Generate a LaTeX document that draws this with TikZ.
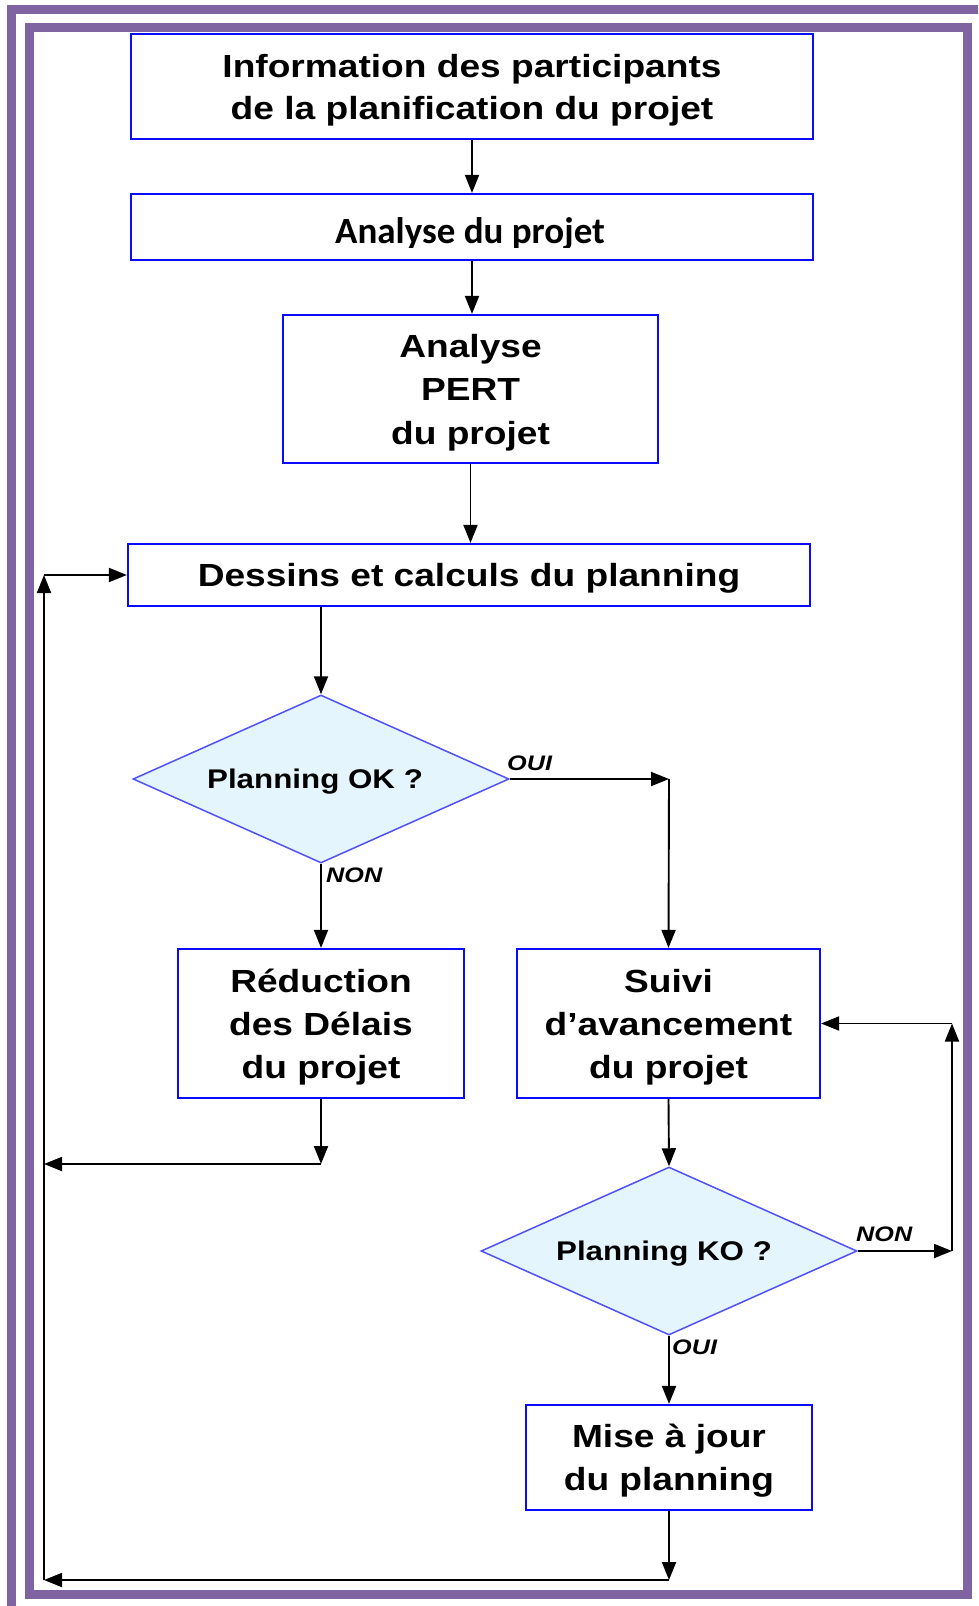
\documentclass[tikz,border=0pt]{standalone}
\usepackage{fontspec}
\usetikzlibrary{arrows.meta,shapes.geometric}
\newfontfamily\boxfont[FakeStretch=1.16]{Liberation Sans}
\newfontfamily\lblfont[FakeStretch=1.2]{Liberation Sans}
\newfontfamily\calfont{Carlito}
\definecolor{framepurple}{RGB}{128,100,162}
\definecolor{boxblue}{RGB}{10,10,255}
\definecolor{diablue}{RGB}{80,80,255}
\definecolor{diafill}{RGB}{229,245,253}

\begin{document}
\begin{tikzpicture}[x=1pt,y=-1pt,
  stepbox/.style={rectangle, draw=boxblue, line width=2.2pt, fill=white,
    inner sep=0pt, align=center, text depth=0pt},
  bigtext/.style={font=\boxfont\bfseries\fontsize{32}{43}\selectfont},
  decision/.style={diamond, draw=diablue, fill=diafill, line width=1.5pt,
    inner sep=0pt, aspect=2.24, minimum width=376pt, minimum height=168pt,
    text depth=0pt, font=\boxfont\bfseries\fontsize{27}{27}\selectfont},
  answer/.style={anchor=west, inner sep=0pt,
    font=\lblfont\bfseries\itshape\fontsize{21}{21}\selectfont},
  flow/.style={draw=black, line width=1.9pt, -{Triangle[length=18pt,width=14pt]}},
  frameline/.style={draw=framepurple, line width=9pt}
]
\path[use as bounding box] (0,0) rectangle (978,1606);
\clip (0,0) rectangle (978,1606);
\fill[white] (0,0) rectangle (978,1606);

% double purple frame
\draw[frameline] (11.5,1640) -- (11.5,9.5) -- (1000,9.5);
\draw[frameline] (29.5,27.5) rectangle (967.5,1594);

% process boxes
\node[stepbox, minimum width=682pt, minimum height=105pt,
  font=\boxfont\bfseries\fontsize{32}{42}\selectfont]
  (info) at (472,86.5) {Information des participants\\de la planification du projet};
\node[stepbox, minimum width=682pt, minimum height=66pt] (analyse) at (472,227) {};
\begin{scope}
  \clip (131,195) rectangle (813,247.5);
  \node[anchor=base, inner sep=0pt, font=\calfont\bfseries\fontsize{37}{37}\selectfont]
    (analysetext) at (470,243) {Analyse du projet};
\end{scope}
\node[stepbox, minimum width=375pt, minimum height=148pt,
  font=\boxfont\bfseries\fontsize{32}{43.5}\selectfont]
  (pert) at (470.5,389) {Analyse\\PERT\\du projet};
\node[stepbox, bigtext, minimum width=682pt, minimum height=62pt]
  (dessins) at (469,575) {Dessins et calculs du planning};
\node[decision] (ok) at (321,779) {Planning OK ?\hspace*{12pt}};
\node[stepbox, bigtext, minimum width=286pt, minimum height=149pt]
  (reduction) at (321,1023.5) {Réduction\\des Délais\\du projet};
\node[stepbox, bigtext, minimum width=303pt, minimum height=149pt]
  (suivi) at (668.5,1023.5) {Suivi\\d’avancement\\du projet};
\node[decision] (ko) at (669,1251) {Planning KO ?\hspace*{10pt}};
\node[stepbox, bigtext, minimum width=286pt, minimum height=105pt]
  (miseajour) at (669,1457.5) {Mise à jour\\du planning};

% branch labels
\node[answer] (okoui) at (507,763) {OUI};
\node[answer] (oknon) at (326,875) {NON};
\node[answer] (konon) at (856,1234) {NON};
\node[answer] (kooui) at (672,1347) {OUI};

% bends of the connectors
\coordinate (ouibend) at (669,779);
\coordinate (redbend) at (321,1164);
\coordinate (redleft) at (44,1164);
\coordinate (loopbottom) at (44,1580);
\coordinate (looptop) at (44,575);
\coordinate (nonbend) at (952,1251);
\coordinate (nontop) at (952,1023.5);
\coordinate (majbend) at (669,1580);

% main chain
\draw[flow] (info.south) -- (analyse.north);
\draw[flow] (analyse.south) -- (analyse.south |- pert.north);
\draw[flow] (pert.south) -- (pert.south |- dessins.north);
\draw[flow] (ok.north |- dessins.south) -- (ok.north);

% Planning OK ?
\draw[flow] (ok.east) -- (ouibend);
\draw[flow] (ouibend) -- (suivi.north);
\draw[flow] (ok.south) -- (reduction.north);
\draw[flow] (reduction.south) -- (redbend);
\draw[flow] (redbend) -- (redleft);

% Planning KO ?
\draw[flow] (suivi.south) -- (ko.north);
\draw[flow] (ko.east) -- (nonbend);
\draw[flow] (nonbend) -- (nontop);
\draw[flow] (nontop) -- (suivi.east);
\draw[flow] (ko.south) -- (miseajour.north);

% return loop to the planning
\draw[flow] (miseajour.south) -- (majbend);
\draw[flow] (majbend) -- (loopbottom);
\draw[flow] (loopbottom) -- (looptop);
\draw[flow] (looptop) -- (dessins.west);
\end{tikzpicture}
\end{document}
